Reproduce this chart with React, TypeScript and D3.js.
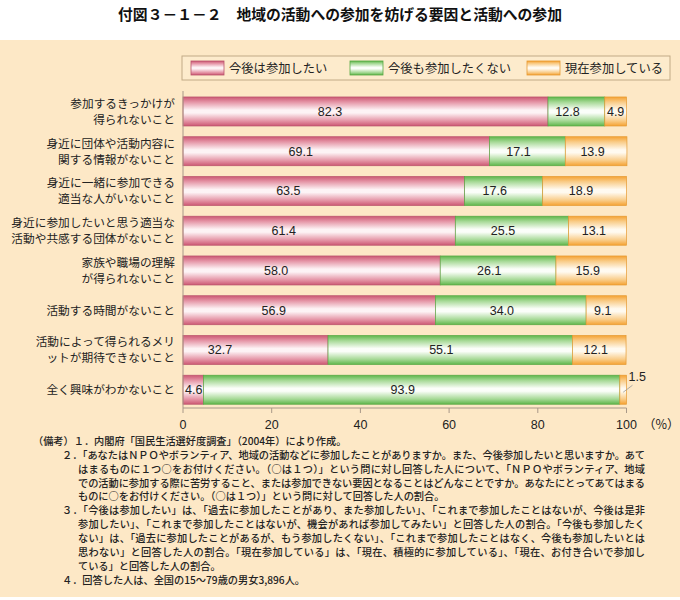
import React, { useEffect } from "react";
import * as d3 from "d3";

const title = "付図３－１－２　地域の活動への参加を妨げる要因と活動への参加";

const categories = [
  "参加するきっかけが\n得られないこと",
  "身近に団体や活動内容に\n関する情報がないこと",
  "身近に一緒に参加できる\n適当な人がいないこと",
  "身近に参加したいと思う適当な\n活動や共感する団体がないこと",
  "家族や職場の理解\nが得られないこと",
  "活動する時間がないこと",
  "活動によって得られるメリ\nットが期待できないこと",
  "全く興味がわかないこと",
];

const seriesNames = ["今後は参加したい", "今後も参加したくない", "現在参加している"];
const wantToJoin = [82.3, 69.1, 63.5, 61.4, 58.0, 56.9, 32.7, 4.6];
const notWantToJoin = [12.8, 17.1, 17.6, 25.5, 26.1, 34.0, 55.1, 93.9];
const joiningNow = [4.9, 13.9, 18.9, 13.1, 15.9, 9.1, 12.1, 1.5];

const xTicks = [0, 20, 40, 60, 80, 100];

const notes = [
  { t: "（備考）１．内閣府「国民生活選好度調査」（2004年）により作成。", x: 33, j: false },
  { t: "２．「あなたはＮＰＯやボランティア、地域の活動などに参加したことがありますか。また、今後参加したいと思いますか。あて", x: 62, j: true },
  { t: "はまるものに１つ○をお付けください。（○は１つ）」という問に対し回答した人について、「ＮＰＯやボランティア、地域", x: 78, j: true },
  { t: "での活動に参加する際に苦労すること、または参加できない要因となることはどんなことですか。あなたにとってあてはまる", x: 78, j: true },
  { t: "ものに○をお付けください。（○は１つ）」という問に対して回答した人の割合。", x: 78, j: false },
  { t: "３．「今後は参加したい」は、「過去に参加したことがあり、また参加したい」、「これまで参加したことはないが、今後は是非", x: 62, j: true },
  { t: "参加したい」、「これまで参加したことはないが、機会があれば参加してみたい」と回答した人の割合。「今後も参加したく", x: 78, j: true },
  { t: "ない」は、「過去に参加したことがあるが、もう参加したくない」、「これまで参加したことはなく、今後も参加したいとは", x: 78, j: true },
  { t: "思わない」と回答した人の割合。「現在参加している」は、「現在、積極的に参加している」、「現在、お付き合いで参加し", x: 78, j: true },
  { t: "ている」と回答した人の割合。", x: 78, j: false },
  { t: "４．回答した人は、全国の15～79歳の男女3,896人。", x: 62, j: false },
];

const palette = [
  { edge: "#cc5873", mid: "#e596a7", light: "#fdf3f5", stroke: "#b9546c" },
  { edge: "#5fb64b", mid: "#a6d996", light: "#fbfef9", stroke: "#58a844" },
  { edge: "#f5a233", mid: "#f9cc88", light: "#fffaf0", stroke: "#e59a33" },
];

const W = 680;
const H = 600;
const JP = "'Noto Sans CJK JP', sans-serif";
const NUM = "'Liberation Sans', Arial, sans-serif";

export default function App() {
  useEffect(() => {
    document.body.style.margin = "0";
  }, []);

  const rows = categories.map((c, i) => ({
    cat: c,
    a: wantToJoin[i],
    b: notWantToJoin[i],
    c: joiningNow[i],
  }));
  const keys = ["a", "b", "c"];
  const stacked = d3.stack<any>().keys(keys)(rows);

  const x = d3.scaleLinear().domain([0, 100]).range([183, 626.5]);
  const y = d3
    .scaleBand<number>()
    .domain(d3.range(categories.length))
    .range([91.6, 91.6 + 8 * 39.75])
    .paddingInner(0.27)
    .paddingOuter(0.135);

  const axisY = 408;
  const labelShift = [-8, -2, -0.8];

  return (
    <svg width={W} height={H} style={{ display: "block" }}>
      <defs>
        {palette.map((p, i) => (
          <linearGradient key={i} id={`g${i}`} x1="0" y1="0" x2="0" y2="1">
            <stop offset="0%" stopColor={p.edge} />
            <stop offset="18%" stopColor={p.mid} />
            <stop offset="45%" stopColor={p.light} />
            <stop offset="55%" stopColor={p.light} />
            <stop offset="82%" stopColor={p.mid} />
            <stop offset="100%" stopColor={p.edge} />
          </linearGradient>
        ))}
      </defs>
      <rect x={0} y={0} width={W} height={H} fill="#ffffff" />
      <rect x={0} y={40} width={W} height={557} fill="#fde8c6" />
      <text
        x={340}
        y={20}
        textAnchor="middle"
        fontFamily={JP}
        fontWeight="bold"
        fontSize={14.8}
        fill="#111"
      >
        {title}
      </text>

      {/* legend */}
      <rect x={182} y={56} width={488} height={24} fill="#fdebcc" stroke="#c2aa86" strokeWidth={1} />
      {seriesNames.map((n, i) => {
        const lx = [191, 350, 527][i];
        return (
          <g key={n}>
            <rect x={lx} y={61} width={33} height={14} fill={`url(#g${i})`} stroke={palette[i].stroke} strokeWidth={0.8} />
            <text x={lx + 38} y={72.5} fontFamily={JP} fontSize={12.3} fill="#222">
              {n}
            </text>
          </g>
        );
      })}

      {/* bars */}
      {stacked.map((s, si) => (
        <g key={si}>
          {s.map((d, i) => {
            const x0 = x(d[0]);
            const x1 = x(d[1]);
            return (
              <rect
                key={i}
                x={x0}
                y={y(i)!}
                width={Math.max(0, x1 - x0)}
                height={y.bandwidth()}
                fill={`url(#g${si})`}
                stroke={palette[si].stroke}
                strokeWidth={0.7}
              />
            );
          })}
        </g>
      ))}

      {/* value labels */}
      {stacked.map((s, si) =>
        s.map((d, i) => {
          const x0 = x(d[0]);
          const x1 = x(d[1]);
          const w = x1 - x0;
          const cy = y(i)! + y.bandwidth() / 2 + 4.5;
          const val = (si === 0 ? wantToJoin : si === 1 ? notWantToJoin : joiningNow)[i];
          const txt = val.toFixed(1);
          if (w < 10) {
            return (
              <g key={`${si}-${i}`}>
                <line x1={(x0 + x1) / 2} y1={cy - 2} x2={x1 + 6} y2={cy - 9} stroke="#999" strokeWidth={0.8} />
                <text x={x1 + 2} y={y(i)! + 6} fontFamily={NUM} fontSize={12.5} fill="#222">
                  {txt}
                </text>
              </g>
            );
          }
          if (w < 30) {
            return (
              <text key={`${si}-${i}`} x={si === 0 ? x0 + 2 : (x0 + x1) / 2} y={cy} textAnchor={si === 0 ? "start" : "middle"} fontFamily={NUM} fontSize={12.5} fill="#222">
                {txt}
              </text>
            );
          }
          let cx = x((d[0] + d[1]) / 2 + labelShift[si]);
          if (cx - 12 < x0 + 2) cx = x0 + 14;
          return (
            <text key={`${si}-${i}`} x={cx} y={cy} textAnchor="middle" fontFamily={NUM} fontSize={12.5} fill="#222">
              {txt}
            </text>
          );
        })
      )}

      {/* category labels */}
      {categories.map((c, i) => {
        const lines = c.split("\n");
        const cy = y(i)! + y.bandwidth() / 2;
        return (
          <g key={i}>
            {lines.map((l, k) => (
              <text
                key={k}
                x={175}
                y={cy + 4.3 + (k - (lines.length - 1) / 2) * 16}
                textAnchor="end"
                fontFamily={JP}
                fontSize={11.7}
                fill="#222"
              >
                {l}
              </text>
            ))}
          </g>
        );
      })}

      {/* axes */}
      <line x1={x(0)} y1={91} x2={x(0)} y2={axisY} stroke="#a89888" strokeWidth={1} />
      <line x1={x(0)} y1={axisY} x2={x(100)} y2={axisY} stroke="#a89888" strokeWidth={1} />
      {xTicks.map((t) => (
        <g key={t}>
          <line x1={x(t)} y1={axisY} x2={x(t)} y2={axisY + 5} stroke="#a89888" strokeWidth={1} />
          <text x={x(t)} y={axisY + 21} textAnchor="middle" fontFamily={NUM} fontSize={12.5} fill="#222">
            {t}
          </text>
        </g>
      ))}
      <text x={643} y={axisY + 21} fontFamily={JP} fontSize={12.5} fill="#222">
        （%）
      </text>

      {/* notes */}
      {notes.map((n, i) => (
        <text
          key={i}
          x={n.x}
          y={445 + i * 13.85}
          fontFamily={JP}
          fontSize={10.2}
          fontWeight={500}
          fill="#222"
          {...(n.j ? { textLength: 645 - n.x, lengthAdjust: "spacing" } : {})}
        >
          {n.t}
        </text>
      ))}
    </svg>
  );
}
